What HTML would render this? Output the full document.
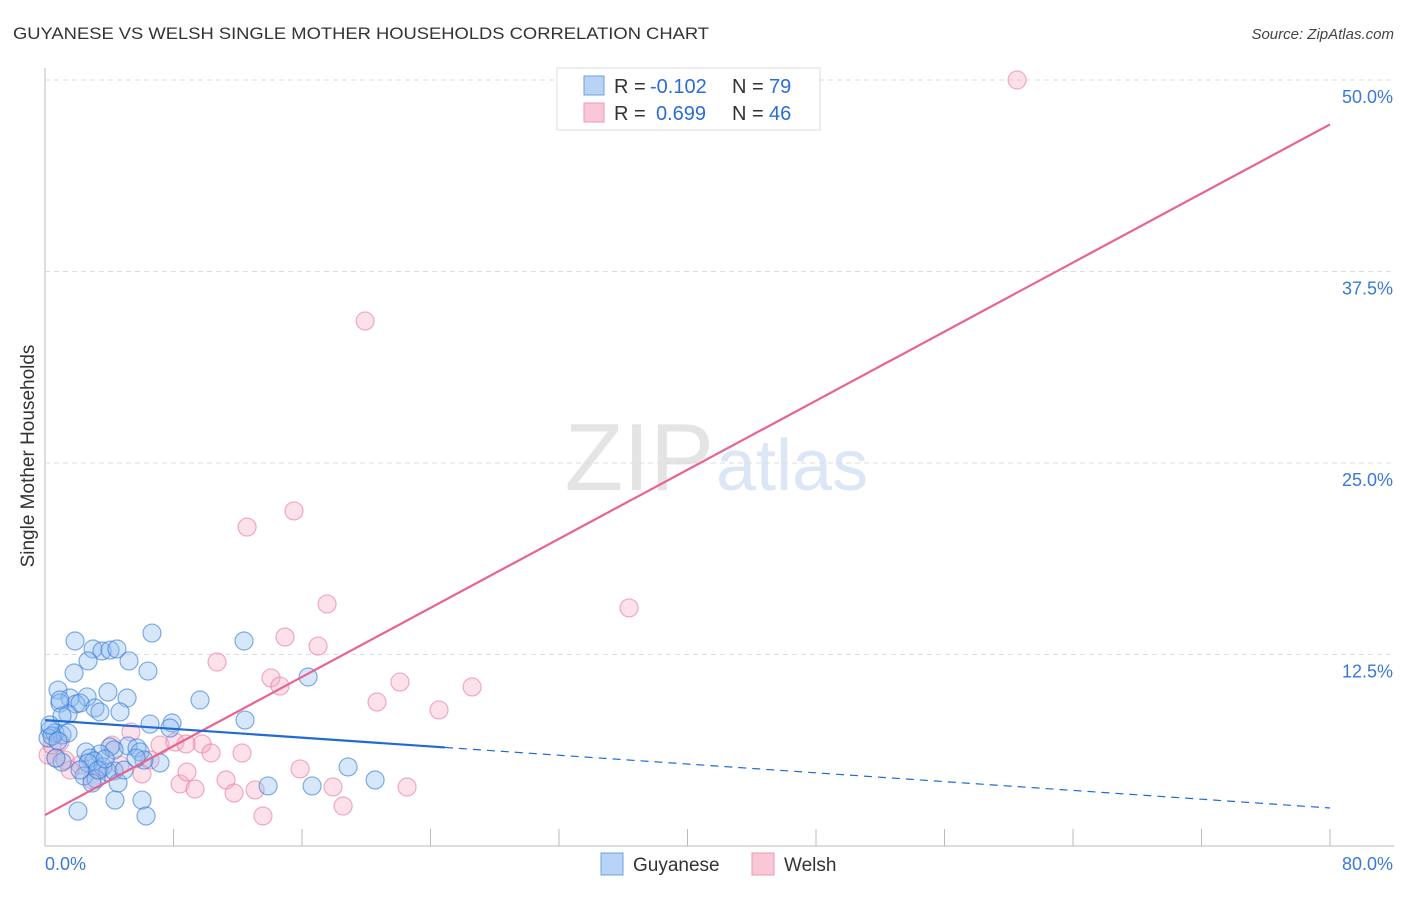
<!DOCTYPE html>
<html><head><meta charset="utf-8"><style>
body{margin:0;background:#fff;font-family:"Liberation Sans",sans-serif;}
svg text{font-family:"Liberation Sans",sans-serif;}
</style></head><body>
<svg id="chart" width="1406" height="892" xmlns="http://www.w3.org/2000/svg">
<text x="13" y="39" font-size="17" fill="#333" textLength="696" lengthAdjust="spacingAndGlyphs">GUYANESE VS WELSH SINGLE MOTHER HOUSEHOLDS CORRELATION CHART</text>
<text x="1394" y="39" font-size="15" fill="#444" text-anchor="end" font-style="italic">Source: ZipAtlas.com</text>
<text x="714" y="490" font-size="96" fill="#e4e4e4" text-anchor="end" font-family="Liberation Serif">ZIP</text>
<text x="716" y="490" font-size="72" fill="#dbe6f6">atlas</text>
<g id="grid"></g><g id="pts"></g><g id="lines"></g>
<text x="34" y="456" font-size="19" fill="#333" text-anchor="middle" transform="rotate(-90 34 456)">Single Mother Households</text>
<g>
<rect x="557" y="68" width="263" height="62" fill="#fff" stroke="#ddd"/>
<rect x="584" y="76" width="20" height="19" fill="#b8d3f5" stroke="#6fa0e0"/>
<rect x="584" y="103" width="20" height="19" fill="#f9c7d6" stroke="#ec9ab4"/>
<text x="614" y="93" font-size="20" fill="#333">R =</text>
<text x="650" y="93" font-size="20" fill="#2b6dd6">-0.102</text>
<text x="732" y="93" font-size="20" fill="#333">N =</text>
<text x="769" y="93" font-size="20" fill="#2b6dd6">79</text>
<text x="614" y="120" font-size="20" fill="#333">R =</text>
<text x="656" y="120" font-size="20" fill="#2b6dd6">0.699</text>
<text x="732" y="120" font-size="20" fill="#333">N =</text>
<text x="769" y="120" font-size="20" fill="#2b6dd6">46</text>
</g>
<g>
<rect x="601" y="853" width="22" height="22" fill="#b8d3f5" stroke="#6fa0e0"/>
<text x="633" y="871" font-size="19" fill="#333">Guyanese</text>
<rect x="752" y="853" width="22" height="22" fill="#f9c7d6" stroke="#ec9ab4"/>
<text x="784" y="871" font-size="19" fill="#333">Welsh</text>
</g>
</svg>
<script>
const xTickLabels=["0.0%","80.0%"];
const yTicks=[12.5,25,37.5,50];
const yTickLabels=["12.5%","25.0%","37.5%","50.0%"];
const guyX=[1.87,2.99,3.55,4.05,4.48,2.68,5.23,1.81,6.41,6.66,12.39,16.38,0.81,1.56,2.62,3.92,5.11,9.65,0.93,1.93,2.18,3.11,4.67,1.43,1.06,3.42,6.54,7.91,12.45,7.78,0.31,0.62,1.06,1.43,0.19,0.44,0.81,4.05,5.17,5.73,4.30,5.92,3.42,2.55,2.80,3.05,2.68,3.61,7.16,6.16,3.92,4.30,2.43,3.18,2.93,4.55,13.89,16.63,18.87,20.55,4.36,6.04,2.05,6.29,3.30,2.18,1.06,0.68,3.74,4.92,5.67,0.93,0.31];
const guyY=[13.38,12.86,12.73,12.79,12.86,12.08,12.08,11.29,11.42,13.90,13.38,11.03,10.18,9.66,9.73,10.05,9.66,9.53,9.33,9.27,9.33,9.01,8.75,8.62,8.49,8.75,7.96,8.03,8.22,7.70,7.57,7.38,7.25,7.38,7.05,7.18,6.85,6.46,6.53,6.40,6.27,6.14,6.01,6.14,5.74,5.55,5.42,5.16,5.42,5.61,4.83,4.90,4.57,4.37,4.11,4.11,3.92,3.92,5.16,4.31,3.00,3.00,2.28,1.96,4.96,4.96,5.48,5.74,5.68,4.96,5.74,9.53,7.90];
const welX=[60.52,19.93,15.50,12.58,17.56,36.36,14.94,17.00,10.71,14.07,14.63,22.10,26.59,20.67,24.53,9.78,12.27,10.34,0.19,0.68,2.18,3.42,4.67,6.04,5.35,7.16,8.09,8.78,15.88,11.27,8.41,9.34,11.77,13.08,17.93,22.54,8.84,18.56,13.57,1.56,0.93,4.17,6.54,2.93,0.44,1.25];
const welY=[50.0,34.27,21.87,20.82,15.80,15.54,13.64,13.05,12.01,10.97,10.44,10.70,10.38,9.40,8.88,6.66,6.07,6.07,5.94,5.74,5.29,4.96,5.29,4.70,7.44,6.59,6.79,6.66,5.03,4.31,4.05,3.72,3.46,3.66,3.85,3.85,4.83,2.61,1.96,4.96,6.79,6.59,5.61,4.31,6.59,5.61];
const welTrend=[2.02,47.1];
const guyTrend=[8.22,2.48];
const guySolidEnd=24.9;
const NS="http://www.w3.org/2000/svg";
const sx=v=>45+v*1285/80, sy=v=>846-v*191.5/12.5;
function mk(t,a,p){const e=document.createElementNS(NS,t);for(const k in a)e.setAttribute(k,a[k]);p.appendChild(e);return e;}
const grid=document.getElementById('grid');
let ax=mk('line',{x1:45,y1:68,x2:45,y2:846,stroke:'#bbb'},grid);


let bx=mk('line',{x1:45,y1:846,x2:1394,y2:846,stroke:'#bbb'},grid);


for(let i=1;i<=10;i++){const x=sx(i*8);const t=mk('line',{x1:x,y1:829,x2:x,y2:846,stroke:'#bbb'},grid);

}
yTicks.forEach((v,i)=>{const g=mk('line',{x1:45,y1:sy(v),x2:1394,y2:sy(v),stroke:'#ddd','stroke-dasharray':'5,4'},grid);


const t=mk('text',{x:1393,y:sy(v)+23,'font-size':18,fill:'#3a78d8','text-anchor':'end'},grid);t.textContent=yTickLabels[i];

});
[[0,'start',45],[80,'end',1393]].forEach((a,i)=>{const t=mk('text',{x:a[2],y:870,'font-size':18,fill:'#3a78d8','text-anchor':a[1]},grid);t.textContent=xTickLabels[i];

});
const pts=document.getElementById('pts');
welX.forEach((x,i)=>{const c=mk('circle',{cx:sx(x),cy:sy(welY[i]),r:9,fill:'rgba(246,170,195,0.35)',stroke:'rgba(232,120,158,0.6)','stroke-width':1.2},pts);

});
guyX.forEach((x,i)=>{const c=mk('circle',{cx:sx(x),cy:sy(guyY[i]),r:9,fill:'rgba(140,185,240,0.35)',stroke:'rgba(50,120,215,0.6)','stroke-width':1.2},pts);

});
const L=document.getElementById('lines');
let l1=mk('line',{x1:sx(0),y1:sy(welTrend[0]),x2:sx(80),y2:sy(welTrend[1]),stroke:'#e8648f','stroke-width':2.2},L);


const gy=x=>guyTrend[0]+(guyTrend[1]-guyTrend[0])*x/80;
let l2=mk('line',{x1:sx(0),y1:sy(gy(0)),x2:sx(guySolidEnd),y2:sy(gy(guySolidEnd)),stroke:'#1f6ad6','stroke-width':2.2},L);


let l3=mk('line',{x1:sx(guySolidEnd),y1:sy(gy(guySolidEnd)),x2:sx(80),y2:sy(gy(80)),stroke:'#1f6ad6','stroke-width':1.2,'stroke-dasharray':'8,6'},L);


</script>
</body></html>
